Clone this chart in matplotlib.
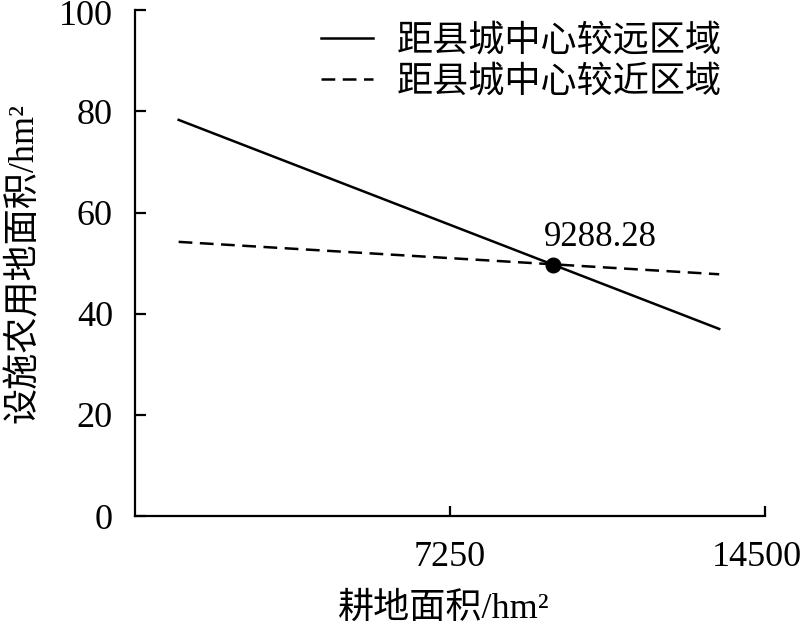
import matplotlib
matplotlib.use("Agg")
import matplotlib.pyplot as plt
import matplotlib.transforms as mtransforms

plt.rcParams['font.family'] = ['Liberation Serif', 'Noto Sans CJK SC']

# data
x_ends = [1000, 13450]
far_area = [78.3, 37.0]
near_area = [54.2, 47.8]
cross_x = 9620
cross_y = 49.6
cross_label = "9288.28"
series_names = ["距县城中心较远区域", "距县城中心较近区域"]
x_ticks = [7250, 14500]
y_ticks = [0, 20, 40, 60, 80, 100]

fig = plt.figure(figsize=(8, 6.28), dpi=100)
ax = fig.add_axes([0.169, 0.178, 0.787, 0.806])

ax.plot(x_ends, far_area, color='black', lw=1.8, label=series_names[0])
ax.plot(x_ends, near_area, color='black', lw=1.8, linestyle=(0, (5.5, 3)),
        label=series_names[1])
ax.plot([cross_x], [cross_y], 'o', color='black', ms=10.5)
ax.annotate(cross_label, (cross_x, cross_y), xytext=(34, 20),
            textcoords='offset points', ha='center', va='center', fontsize=25)

ax.set_xlim(0, 14500)
ax.set_ylim(0, 100)
ax.set_xticks(x_ticks)
ax.set_yticks(y_ticks)
ax.tick_params(axis='both', direction='in', width=1.6, labelsize=26)
ax.tick_params(axis='x', length=7, pad=18)
ax.tick_params(axis='y', length=8, pad=16)

# nudge edge labels so they stay inside the figure
last = ax.get_xticklabels()[-1]
last.set_transform(last.get_transform() +
                   mtransforms.ScaledTranslation(-6 / 72, 0, fig.dpi_scale_trans))
top = ax.get_yticklabels()[-1]
top.set_transform(top.get_transform() +
                  mtransforms.ScaledTranslation(0, -2 / 72, fig.dpi_scale_trans))

for s in ['top', 'right']:
    ax.spines[s].set_visible(False)
for s in ['left', 'bottom']:
    ax.spines[s].set_linewidth(1.6)

ax.set_xlabel("耕地面积/hm²", fontsize=26)
ax.set_ylabel("设施农用地面积/hm²", fontsize=26)
ax.xaxis.set_label_coords(0.49, -0.15)
ax.yaxis.set_label_coords(-0.15, 0.5)

ax.legend(loc='upper right', frameon=False, fontsize=26, handlelength=1.45,
          handletextpad=0.65, labelspacing=0.2, bbox_to_anchor=(0.983, 1.035))

fig.savefig("out.png", dpi=100)
